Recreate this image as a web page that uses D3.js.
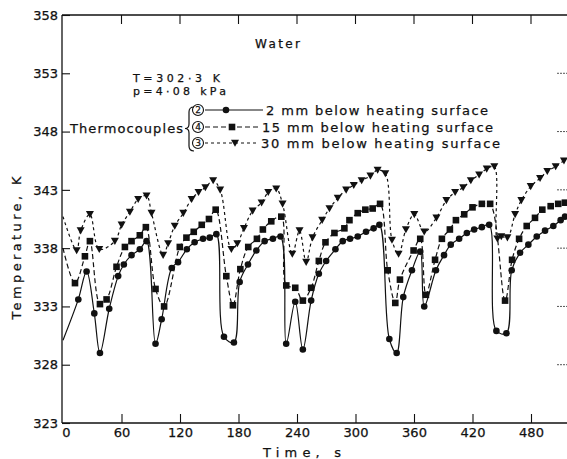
<!DOCTYPE html>
<html><head><meta charset="utf-8">
<script src="https://cdn.jsdelivr.net/npm/d3@7"></script>
<style>body{margin:0;background:#fff}svg{display:block}text{font-family:"DejaVu Sans",sans-serif;fill:#111;stroke:#111;stroke-width:0.25px}</style>
</head><body>
<svg id="c" width="567" height="459"></svg>
<script>
// ---- data ----
const xTicks = [0,60,120,180,240,300,360,420,480];
const yTicks = [323,328,333,338,343,348,353,358];

const t2  = [0,15.7,24.2,32.1,37.9,47.4,56.6,62.4,70.3,78.8,85.7,94.9,101.2,111.5,118,127,135,143.6,150.5,157.3,165.1,175.3,181.2,189.7,198.3,206.8,215.3,223.1,228.9,238.2,246,254.5,262.4,269.9,279.4,286.9,294.4,302.3,310.8,318.6,324.5,334.7,342.2,349,357.9,366.4,370.5,382.5,390.8,397.7,406.3,414.2,421.7,429.6,437.1,444.5,454.8,460.2,468.8,477.3,485.9,494.4,502.9,510.4,514.9];
const T2  = [330.1,333.6,336.0,332.4,329.0,332.8,335.6,336.6,337.4,337.9,338.6,329.8,331.9,336.3,336.8,337.9,338.5,338.8,338.9,339.2,330.4,329.9,335.1,336.6,337.8,338.6,338.8,339.0,329.8,333.4,329.3,333.5,335.8,336.9,337.9,338.6,338.8,339.0,339.4,339.7,340.0,330.2,329.0,333.8,336.1,337.7,333.0,336.1,337.4,338.3,338.8,339.3,339.6,339.8,340.0,330.9,330.7,336.1,337.6,338.3,339.0,339.5,339.9,340.4,340.7];

const t15 = [0,12.3,22.5,27.6,37.9,44.7,54.9,63.5,70.3,78.8,85,94.9,103.7,119.8,126.6,134.1,142.3,149.7,156.6,167.5,174.3,181.9,190,198.9,205,213.6,223.9,229,238.2,246,254.5,262.4,269.2,278.4,288.6,293.8,302.3,310.1,317.6,325.2,333,340.8,345.6,359.6,366.4,372.2,381.6,388.6,396.8,403,411.5,420,429.6,438.1,453.4,460.6,467.8,475.6,484.1,491.6,500.2,507.9,514.8];
const T15 = [338.0,335.0,337.3,338.6,333.2,333.6,336.4,338.1,338.6,339.1,339.8,334.5,333.0,338.1,338.9,339.4,340.0,340.5,341.3,335.6,333.1,336.2,338.1,338.8,339.6,340.3,340.7,334.8,334.6,333.5,334.6,336.9,338.5,339.3,339.7,340.4,341.0,341.3,341.4,341.8,336.1,333.3,335.3,337.8,338.8,334.0,337.0,338.8,339.6,340.4,340.9,341.5,341.8,341.8,333.5,337.0,338.8,339.9,340.6,341.3,341.6,341.8,341.9];

const t30 = [0,14,18.1,27.6,37.2,53.2,60.1,68.6,77.1,85.7,90.8,102.7,107.8,114.6,123.4,131.9,139,146,154,161.2,172.7,178.8,185.6,194.5,203.7,210.5,218.7,225.2,235.2,242.6,249.4,255.9,265.8,273.3,281.8,290.4,298.2,306.3,315.3,322.7,330.6,337.4,344.2,351.7,360.3,370.5,383,393.2,402.2,410.4,418.3,426.8,434.6,442.4,445.5,449.5,455.8,463.7,470.1,479.7,489.3,496.7,505.3,513.8];
const T30 = [340.7,337.8,339.5,340.9,337.9,338.6,340.0,341.1,342.2,342.5,341.0,337.4,338.4,339.9,341.0,342.2,342.8,343.2,343.8,343.0,337.9,338.4,339.7,341.2,341.9,342.8,343.1,341.8,337.5,339.5,336.8,338.9,340.4,341.4,342.3,343.0,343.4,343.8,344.2,344.7,344.4,338.7,337.5,339.6,340.9,339.4,340.6,342.1,342.8,343.2,343.8,344.3,344.8,345.0,338.8,339.0,338.9,340.9,342.1,343.3,344.0,344.6,345.0,345.5];

const legendLabels = ["2 mm below heating surface","15 mm below heating surface","30 mm below heating surface"];
const legendNums = ["2","4","3"];

// ---- chart ----
const svg = d3.select("#c");
const x = d3.scaleLinear().domain([0,520]).range([63,570]);
const y = d3.scaleLinear().domain([323,358]).range([423,15]);
const ink = "#111";

// frame line (top)
svg.append("line").attr("x1",62).attr("x2",567).attr("y1",15).attr("y2",15).attr("stroke",ink).attr("stroke-width",1.3);

// bottom axis
const gx = svg.append("g").attr("transform","translate(0,423)")
  .call(d3.axisBottom(x).tickValues(xTicks).tickSizeInner(-9).tickSizeOuter(0).tickPadding(5).tickFormat(d3.format("d")));
gx.select(".domain").attr("d","M62,0H567").attr("stroke",ink).attr("stroke-width",1.3);
gx.selectAll(".tick line").attr("stroke",ink).attr("stroke-width",1.1).filter(d=>d===0).remove();
gx.selectAll(".tick text").attr("font-size",13).attr("dx",d=>d===0?3:0).style("font-family","DejaVu Sans");

// left axis
const gy = svg.append("g").attr("transform","translate(62,0)")
  .call(d3.axisLeft(y).tickValues(yTicks).tickSizeInner(-8).tickSizeOuter(0).tickPadding(4).tickFormat(d3.format("d")));
gy.select(".domain").attr("d","M0,15V423").attr("stroke",ink).attr("stroke-width",1.3);
gy.selectAll(".tick line").attr("stroke",ink).attr("stroke-width",1.1);
gy.selectAll(".tick text").attr("font-size",13).style("font-family","DejaVu Sans");

// top ticks
svg.append("g").selectAll("line").data(xTicks.filter(d=>d>0)).join("line")
  .attr("x1",d=>x(d)).attr("x2",d=>x(d)).attr("y1",15).attr("y2",24).attr("stroke",ink).attr("stroke-width",1.1);
// right ticks
svg.append("g").selectAll("line").data(yTicks.filter(d=>d>323&&d<358)).join("line")
  .attr("x1",557).attr("x2",567).attr("y1",d=>y(d)).attr("y2",d=>y(d)).attr("stroke","#555").attr("stroke-width",1).attr("stroke-dasharray","2,1");

// axis titles
svg.append("text").attr("transform","translate(21,248) rotate(-90)").attr("text-anchor","middle")
  .attr("font-size",13).attr("textLength",143).attr("lengthAdjust","spacing").text("Temperature,  K");
svg.append("text").attr("x",263).attr("y",457).attr("font-size",13).attr("textLength",78).attr("lengthAdjust","spacing").text("Time,   s");

// series
const series = [
  {t:t2, T:T2, dash:null, mark:"circle"},
  {t:t15, T:T15, dash:"5,3", mark:"square"},
  {t:t30, T:T30, dash:"3,3", mark:"tri"}
];
const line = d3.line().x(d=>x(d[0])).y(d=>y(d[1])).curve(d3.curveCatmullRom.alpha(0.5));
function marker(g, kind, cx, cy){
  if(kind==="circle") g.append("circle").attr("cx",cx).attr("cy",cy).attr("r",3.3).attr("fill",ink);
  else if(kind==="square") g.append("rect").attr("x",cx-3.3).attr("y",cy-3.3).attr("width",6.6).attr("height",6.6).attr("fill",ink);
  else g.append("path").attr("d",`M${cx-4},${cy-3.3}L${cx+4},${cy-3.3}L${cx},${cy+3.8}Z`).attr("fill",ink);
}
series.forEach(s=>{
  const pts = s.t.map((v,i)=>[v,s.T[i]]);
  svg.append("path").attr("d",line(pts)).attr("fill","none").attr("stroke",ink).attr("stroke-width",1.2)
    .attr("stroke-dasharray",s.dash);
  const g = svg.append("g");
  pts.filter(p=>p[0]>0).forEach(p=>marker(g,s.mark,x(p[0]),y(p[1])));
});

// annotations
const ann = svg.append("g").attr("font-size",12);
ann.append("text").attr("x",255).attr("y",48).attr("textLength",45).attr("lengthAdjust","spacing").text("Water");
ann.append("text").attr("x",133).attr("y",82).attr("font-size",11).attr("textLength",87).attr("lengthAdjust","spacing").text("T=302·3 K");
ann.append("text").attr("x",133).attr("y",95).attr("font-size",11).attr("textLength",93).attr("lengthAdjust","spacing").text("p=4·08 kPa");
ann.append("text").attr("x",70).attr("y",133).attr("font-size",13).attr("textLength",113).attr("lengthAdjust","spacing").text("Thermocouples");
svg.append("path").attr("d","M194,107Q189,107 189,112L189,124Q189,128.5 185,128.5Q189,128.5 189,133L189,146Q189,151 194,151")
  .attr("fill","none").attr("stroke",ink).attr("stroke-width",1.2);

const rowsY = [110,127,143];
const lineStart = [205,205,205], lineEnd=[263,260,259], markX=[226,232,235];
const textX = [266,262,261], textL=[222,231,239];
rowsY.forEach((ry,i)=>{
  svg.append("circle").attr("cx",198).attr("cy",ry).attr("r",5.5).attr("fill","none").attr("stroke",ink).attr("stroke-width",1.1);
  svg.append("text").attr("x",198).attr("y",ry+3.3).attr("text-anchor","middle").attr("font-size",9).text(legendNums[i]);
  svg.append("line").attr("x1",lineStart[i]).attr("x2",lineEnd[i]).attr("y1",ry).attr("y2",ry)
    .attr("stroke",ink).attr("stroke-width",1.1).attr("stroke-dasharray",series[i].dash);
  marker(svg, series[i].mark, markX[i], ry);
  ann.append("text").attr("x",textX[i]).attr("y",ry+4.5).attr("font-size",13).attr("textLength",textL[i]).attr("lengthAdjust","spacing").text(legendLabels[i]);
});
</script>
</body></html>
